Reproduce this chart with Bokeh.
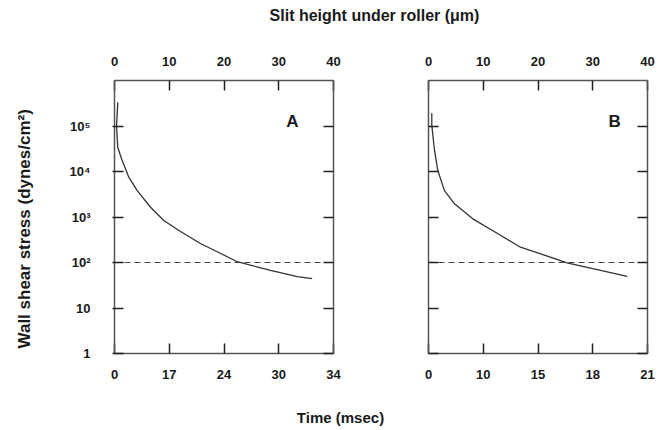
from bokeh.plotting import figure
from bokeh.models import Range1d, LinearAxis, LogAxis, FixedTicker
from bokeh.layouts import column, row
from bokeh.embed import file_html
from bokeh.resources import INLINE
from bokeh.core.properties import value

# ---- data ----
slit_ticks = [0, 10, 20, 30, 40]                      # slit height (um), top axis
slit_labels = ["0", "10", "20", "30", "40"]
time_labels_A = ["0", "17", "24", "30", "34"]          # time (msec), bottom axis A
time_labels_B = ["0", "10", "15", "18", "21"]          # time (msec), bottom axis B
stress_ticks = [1, 10, 100, 1000, 10000, 100000]
stress_labels = ["1", "10", "10²", "10³", "10⁴", "10⁵"]

slit_A = [0.60, 0.37, 0.60, 1.28, 2.61, 4.15, 6.58, 9.0, 12.05, 15.7, 19.4, 22.4, 28.5, 33.4, 36.1]
stress_A = [3.3e5, 9.8e4, 3.4e4, 1.9e4, 7.5e3, 3.8e3, 1.64e3, 840, 480, 262, 158, 104, 67, 49, 44]
slit_B = [0.60, 0.60, 1.10, 1.70, 2.92, 4.75, 8.09, 12.3, 16.8, 20.5, 25.3, 30.2, 36.3]
stress_B = [1.9e5, 1.03e5, 2.9e4, 1.05e4, 3.8e3, 1.95e3, 912, 456, 217, 155, 98.5, 72.7, 49.3]
threshold = [100]
panel_letters = ["A", "B"]
letter_x = [32.5, 34.0]
letter_y = [1.26e5, 1.26e5]

FONT = "Liberation Sans"
TXT = "#1a1a1a"
AX = "#555555"


def style_axis(ax, tick_in=10, tick_out=0, standoff=10):
    ax.axis_line_color = AX
    ax.axis_line_width = 1.5
    ax.major_tick_line_color = "#222222"
    ax.major_tick_line_width = 1.5
    ax.minor_tick_line_color = None
    ax.major_tick_in = tick_in
    ax.major_tick_out = tick_out
    ax.major_label_standoff = standoff
    ax.major_label_text_font = FONT
    ax.major_label_text_font_style = "bold"
    ax.major_label_text_font_size = "13px"
    ax.major_label_text_color = TXT


def panel(width, mbl, mbr, xs, ys, time_labels, idx, left_labels):
    p = figure(width=width, height=358, x_range=Range1d(0, 40), y_range=Range1d(1, 1e6),
               y_axis_type="log", toolbar_location=None, output_backend="svg",
               min_border_left=mbl, min_border_right=mbr, min_border_top=50, min_border_bottom=35)
    p.grid.visible = False
    p.outline_line_color = None
    p.background_fill_color = "white"

    # bottom axis: time labels placed at slit-height positions
    bx = p.xaxis[0]
    bx.ticker = FixedTicker(ticks=slit_ticks)
    bx.major_label_overrides = {t: l for t, l in zip(slit_ticks, time_labels)}
    style_axis(bx, standoff=16)

    # left axis
    ly = p.yaxis[0]
    ly.ticker = FixedTicker(ticks=stress_ticks)
    if left_labels:
        ly.major_label_overrides = {t: l for t, l in zip(stress_ticks, stress_labels)}
        style_axis(ly, tick_in=9, tick_out=2, standoff=22)
        ly.axis_label = "Wall shear stress (dynes/cm²)" + "\u00a0" * 5
        ly.axis_label_text_font = FONT
        ly.axis_label_text_font_style = "bold"
        ly.axis_label_text_font_size = "17px"
        ly.axis_label_text_color = TXT
        ly.axis_label_standoff = 33
    else:
        ly.major_label_overrides = {t: "" for t in stress_ticks}
        style_axis(ly, standoff=0)

    # top axis: slit height
    tx = LinearAxis(ticker=FixedTicker(ticks=slit_ticks))
    tx.major_label_overrides = {t: l for t, l in zip(slit_ticks, slit_labels)}
    style_axis(tx, standoff=15)
    p.add_layout(tx, "above")

    # right axis: ticks only
    ry = LogAxis(ticker=FixedTicker(ticks=stress_ticks))
    ry.major_label_overrides = {t: "" for t in stress_ticks}
    style_axis(ry, standoff=0)
    p.add_layout(ry, "right")

    p.hspan(y=threshold, line_color="#444444", line_width=1, line_dash="6 4")
    p.line(xs, ys, line_color="#333333", line_width=1.3)

    p.text(x=[letter_x[idx]], y=[letter_y[idx]], text=[panel_letters[idx]],
           text_align="center", text_baseline="middle",
           text_font=value(FONT), text_font_style="bold", text_font_size="17px",
           text_color=TXT)
    return p


pA = panel(380, 114, 47, slit_A, stress_A, time_labels_A, 0, True)
pB = panel(284, 48, 17, slit_B, stress_B, time_labels_B, 1, False)


def strip(height, text, x, y, size):
    s = figure(width=664, height=height, x_range=Range1d(0, 664), y_range=Range1d(0, height),
               toolbar_location=None, output_backend="svg", x_axis_location=None,
               y_axis_location=None, min_border=0)
    s.grid.visible = False
    s.outline_line_color = None
    s.text(x=[x], y=[y], text=[text], text_align="center", text_baseline="middle",
           text_font=value(FONT), text_font_style="bold", text_font_size=size, text_color=TXT)
    return s


top = strip(30, "Slit height under roller (μm)", 374, 15, "16px")
bot = strip(40, "Time (msec)", 340, 11, "15px")

layout = column(top, row(pA, pB), bot)
open("out.html", "w").write(file_html(layout, INLINE))
